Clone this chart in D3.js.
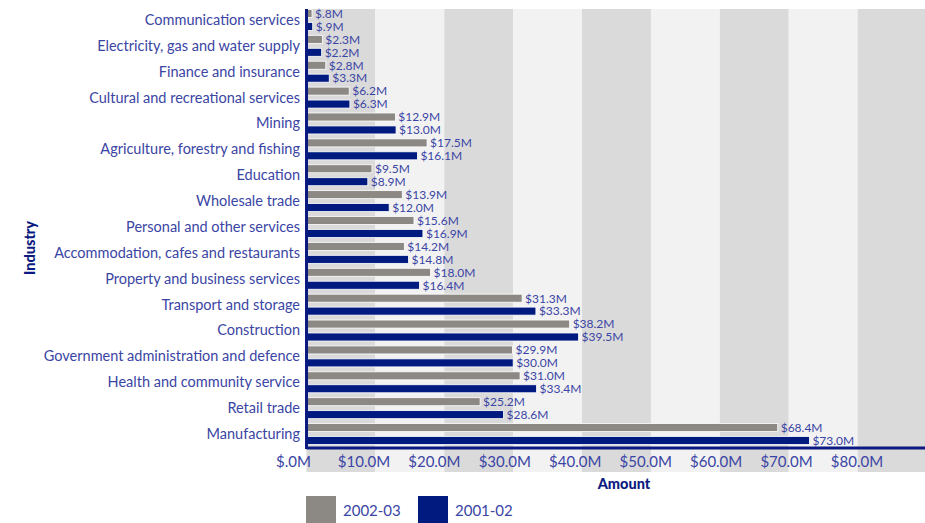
<!DOCTYPE html>
<html>
<head>
<meta charset="utf-8">
<script src="https://cdn.jsdelivr.net/npm/d3@7"></script>
<style>
  html, body { margin: 0; padding: 0; background: #fff; }
  svg { display: block; }
  text { font-family: Lato, "Open Sans", sans-serif; }
</style>
</head>
<body>
<svg id="chart" width="925" height="523"></svg>
<script>
// Funding by industry, $ millions
const industries = [
  "Communication services",
  "Electricity, gas and water supply",
  "Finance and insurance",
  "Cultural and recreational services",
  "Mining",
  "Agriculture, forestry and fishing",
  "Education",
  "Wholesale trade",
  "Personal and other services",
  "Accommodation, cafes and restaurants",
  "Property and business services",
  "Transport and storage",
  "Construction",
  "Government administration and defence",
  "Health and community service",
  "Retail trade",
  "Manufacturing"
];
const values2002_03 = [0.8, 2.3, 2.8, 6.2, 12.9, 17.5, 9.5, 13.9, 15.6, 14.2, 18.0, 31.3, 38.2, 29.9, 31.0, 25.2, 68.4];
const values2001_02 = [0.9, 2.2, 3.3, 6.3, 13.0, 16.1, 8.9, 12.0, 16.9, 14.8, 16.4, 33.3, 39.5, 30.0, 33.4, 28.6, 73.0];
const seriesNames = ["2002-03", "2001-02"];
const xTicks = [0, 10, 20, 30, 40, 50, 60, 70, 80];
const bandEdges = [0, 10, 20, 30, 40, 50, 60, 70, 80, 90];

const seriesColors = ["#8c8985", "#001a80"];
const navy = "#0a1a80";
const labelBlue = "#3a45a4";

const svg = d3.select("#chart");

const x = d3.scaleLinear().domain([0, 90]).range([306.5, 926.5]);
const y = d3.scaleBand().domain(industries).range([7, 447]);
const sub = d3.scaleBand().domain(seriesNames).range([0, y.bandwidth()]).paddingInner(0.38).paddingOuter(0.19);

const fmt = v => "$" + v.toFixed(1).replace(/^0\./, ".") + "M";

// alternating background bands, one per $10M
svg.append("g").selectAll("rect")
  .data(d3.pairs(bandEdges))
  .join("rect")
  .attr("x", d => x(d[0]))
  .attr("width", d => x(d[1]) - x(d[0]))
  .attr("y", 9)
  .attr("height", 463)
  .attr("fill", (d, i) => i % 2 === 0 ? "#dadada" : "#f2f2f2");

// bars
const rows = industries.map((name, i) => ({ name, vals: [values2002_03[i], values2001_02[i]] }));
const rowG = svg.append("g").selectAll("g")
  .data(rows)
  .join("g")
  .attr("transform", d => `translate(0,${y(d.name)})`);

rowG.selectAll("rect")
  .data(d => d.vals.map((v, k) => ({ v, s: seriesNames[k], k })))
  .join("rect")
  .attr("x", x(0))
  .attr("y", d => sub(d.s))
  .attr("width", d => x(d.v) - x(0))
  .attr("height", sub.bandwidth())
  .attr("fill", d => seriesColors[d.k])
  .attr("stroke", "#ffffff")
  .attr("stroke-width", 0.8);

rowG.selectAll("text.val")
  .data(d => d.vals.map((v, k) => ({ v, s: seriesNames[k], k })))
  .join("text")
  .attr("class", "val")
  .attr("x", d => x(d.v) + 3)
  .attr("y", d => sub(d.s) + sub.bandwidth() / 2)
  .attr("dy", "0.36em")
  .attr("font-size", 12)
  .attr("fill", labelBlue)
  .text(d => fmt(d.v));

// category labels
svg.append("g").selectAll("text")
  .data(industries)
  .join("text")
  .attr("x", 300)
  .attr("y", d => y(d) + y.bandwidth() / 2)
  .attr("dy", "0.34em")
  .attr("text-anchor", "end")
  .attr("font-size", 14.5)
  .attr("fill", labelBlue)
  .text(d => d);

// axis lines
svg.append("line")
  .attr("x1", x(0)).attr("x2", x(0)).attr("y1", 9).attr("y2", 449)
  .attr("stroke", navy).attr("stroke-width", 3);
svg.append("line")
  .attr("x1", x(0)).attr("x2", 925).attr("y1", 448).attr("y2", 448)
  .attr("stroke", navy).attr("stroke-width", 3);

// tick labels sit on their own, slightly wider spacing
const tickLabelX = d3.scaleLinear().domain([0, 80]).range([293.5, 857]);
svg.append("g").selectAll("text")
  .data(xTicks)
  .join("text")
  .attr("x", d => tickLabelX(d))
  .attr("y", 467)
  .attr("text-anchor", "middle")
  .attr("font-size", 15)
  .attr("fill", labelBlue)
  .text(d => fmt(d));

// axis titles
svg.append("text")
  .attr("x", 624).attr("y", 489)
  .attr("text-anchor", "middle")
  .attr("font-size", 14.5)
  .attr("font-weight", 900)
  .attr("fill", navy)
  .text("Amount");

svg.append("text")
  .attr("transform", "translate(35,248) rotate(-90)")
  .attr("text-anchor", "middle")
  .attr("font-size", 14.5)
  .attr("font-weight", 900)
  .attr("fill", navy)
  .text("Industry");

// legend
const legend = svg.append("g").selectAll("g")
  .data(seriesNames)
  .join("g")
  .attr("transform", (d, i) => `translate(${306 + i * 112},496)`);
legend.append("rect")
  .attr("width", 30).attr("height", 30)
  .attr("fill", (d, i) => seriesColors[i]);
legend.append("text")
  .attr("x", 37).attr("y", 15)
  .attr("dy", "0.35em")
  .attr("font-size", 15)
  .attr("fill", labelBlue)
  .text(d => d);
</script>
</body>
</html>
